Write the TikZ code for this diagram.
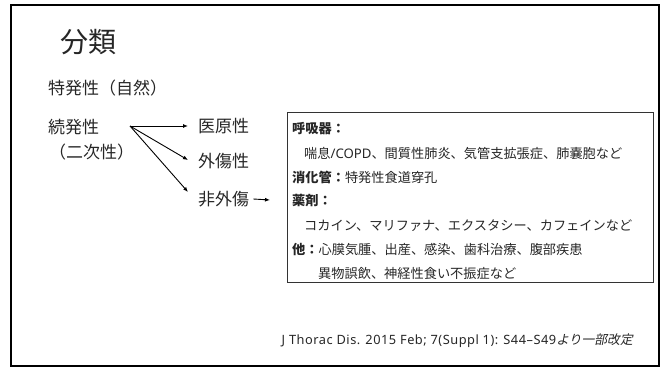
\documentclass[tikz,border=0pt]{standalone}
\usepackage{fontspec}
\setmainfont{Noto Sans CJK JP}
\newfontfamily\jpsl[FakeSlant=0.2]{Noto Sans CJK JP}
\newfontfamily\lat{Noto Sans}
\newfontfamily\latw[LetterSpace=4]{Noto Sans}
\usetikzlibrary{arrows.meta}
\begin{document}
\begin{tikzpicture}[x=1pt,y=-1pt,
  txt/.style={inner sep=0pt, anchor=west, text=black!85},
  big/.style={txt, font=\fontsize{17}{20}\selectfont},
  boxtxt/.style={txt, font=\fontsize{13.2}{16}\selectfont},
  arr/.style={line width=0.9pt, -{Latex[length=5pt,width=4pt]}},
  hd/.style={font=\fontsize{13.2}{16}\selectfont\bfseries}]
\useasboundingbox (0,0) rectangle (665,369);
\draw[line width=2pt] (11,5) rectangle (659,366);

\node[txt, font=\fontsize{28}{32}\selectfont] (title) at (60,42) {分類};
\node[big] (idio) at (48,88) {特発性（自然）};
\node[big] (sec) at (48,127) {続発性};
\node[big] (sec2) at (49,152) {（二次性）};

\node[big] (iatro) at (198,126) {医原性};
\node[big] (trauma) at (198,161) {外傷性};
\node[big] (nontr) at (198,199) {非外傷};

\coordinate (fork) at (130,126);
\coordinate (e1) at (188,126);
\coordinate (e2) at (188,160);
\coordinate (e3) at (188,192);
\draw[arr] (fork) -- (e1);
\draw[arr] (fork) -- (e2);
\draw[arr] (fork) -- (e3);

\node[draw, line width=0.8pt, draw=black!80, inner sep=0pt, anchor=north west,
  minimum width=366pt, minimum height=170pt] (box) at (287,112) {};
\coordinate (e4) at (270,200);
\draw[arr] ([xshift=4pt]nontr.east) -- (e4);

\node[boxtxt, hd] (resp) at (292,129) {呼吸器：};
\node[boxtxt] (resp2) at (304,153) {喘息{\lat\fontsize{13.2}{16}\selectfont /COPD}、間質性肺炎、気管支拡張症、肺嚢胞など};
\node[boxtxt] (gi) at (292,177) {{\bfseries 消化管：}特発性食道穿孔};
\node[boxtxt, hd] (drug) at (292,201) {薬剤：};
\node[boxtxt] (drug2) at (304,226) {コカイン、マリファナ、エクスタシー、カフェインなど};
\node[boxtxt] (oth) at (292,250) {{\bfseries 他：}心膜気腫、出産、感染、歯科治療、腹部疾患};
\node[boxtxt] (oth2) at (318,273) {異物誤飲、神経性食い不振症など};

\node[txt, anchor=east, font=\fontsize{12.8}{14}\selectfont] (cite) at (633,341) {{\latw\fontsize{12.8}{14}\selectfont J Thorac Dis. 2015 Feb; 7(Suppl 1): S44–S49}{\jpsl より一部改定}};
\end{tikzpicture}
\end{document}
